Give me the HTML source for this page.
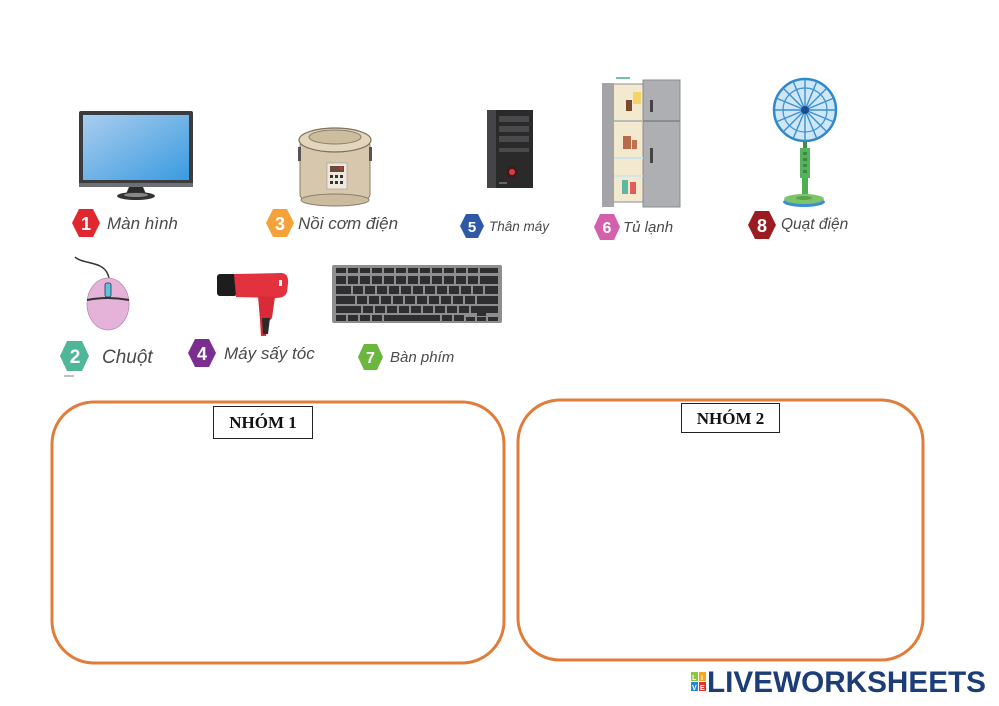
<!DOCTYPE html>
<html>
<head>
<meta charset="utf-8">
<style>
  html,body{margin:0;padding:0;background:#fff;}
  body{width:999px;height:706px;overflow:hidden;position:relative;}
  svg{position:absolute;left:0;top:0;}
  .lbl{font-family:"Liberation Sans","DejaVu Sans",sans-serif;font-style:italic;fill:#4a4a4a;}
  .num{font-family:"Liberation Sans",sans-serif;font-weight:bold;fill:#fff;}
  .nh{font-family:"Liberation Serif",serif;font-weight:bold;fill:#111;}
  .logo{font-family:"Liberation Sans",sans-serif;font-weight:bold;fill:#1d3d78;}
</style>
</head>
<body>
<svg width="999" height="706" viewBox="0 0 999 706" xmlns="http://www.w3.org/2000/svg">
  <defs>
    <linearGradient id="scr" x1="0" y1="0" x2="1" y2="1">
      <stop offset="0" stop-color="#a9cdee"/>
      <stop offset="1" stop-color="#3a9be0"/>
    </linearGradient>
  </defs>

  <!-- ===== Monitor ===== -->
  <rect x="79" y="111" width="114" height="76" rx="2" fill="#3a3c40"/>
  <rect x="83" y="115" width="106" height="65" fill="url(#scr)"/>
  <rect x="79" y="183" width="114" height="4" fill="#6d6f73"/>
  <polygon points="129,187 143,187 146,194 126,194" fill="#2a2a2a"/>
  <ellipse cx="136" cy="196" rx="19" ry="4" fill="#333"/>
  <ellipse cx="136" cy="195" rx="12" ry="2" fill="#888"/>
  <!-- badge 1 -->
  <polygon points="79,209 93,209 100,223 93,237 79,237 72,223" fill="#e0262e"/>
  <text x="86" y="230" class="num" font-size="18" text-anchor="middle">1</text>
  <text x="107" y="229" class="lbl" font-style="italic" font-size="17">Màn hình</text>

  <!-- ===== Rice cooker ===== -->
  <rect x="300" y="140" width="70" height="60" rx="6" fill="#d6c7ad" stroke="#8a7d68" stroke-width="1"/>
  <ellipse cx="335" cy="200" rx="34" ry="6" fill="#cbbb9f" stroke="#8a7d68" stroke-width="1"/>
  <ellipse cx="335" cy="140" rx="36" ry="12" fill="#e3d6bd" stroke="#7d705c" stroke-width="1.2"/>
  <ellipse cx="335" cy="137" rx="26" ry="7" fill="#cdbd9f" stroke="#8a7d68" stroke-width="1"/>
  <rect x="298" y="147" width="3" height="14" fill="#555"/>
  <rect x="369" y="147" width="3" height="14" fill="#555"/>
  <rect x="327" y="163" width="20" height="26" fill="#efe8dc" stroke="#999" stroke-width="0.6"/>
  <rect x="330" y="166" width="14" height="6" fill="#6b4a3b"/>
  <g fill="#333">
    <rect x="330" y="175" width="3" height="3"/><rect x="335" y="175" width="3" height="3"/><rect x="340" y="175" width="3" height="3"/>
    <rect x="330" y="181" width="3" height="3"/><rect x="335" y="181" width="3" height="3"/><rect x="340" y="181" width="3" height="3"/>
  </g>
  <circle cx="341" cy="168" r="1.5" fill="#d33"/>
  <!-- badge 3 -->
  <polygon points="273,209 287,209 294,223 287,237 273,237 266,223" fill="#f6a23a"/>
  <text x="280" y="230" class="num" font-size="18" text-anchor="middle">3</text>
  <text x="298" y="229" class="lbl" font-style="italic" font-size="17">Nồi cơm điện</text>

  <!-- ===== Tower PC ===== -->
  <rect x="487" y="110" width="46" height="78" fill="#2a2a2b"/>
  <rect x="487" y="110" width="9" height="78" fill="#454547"/>
  <g fill="#4a4a4c">
    <rect x="499" y="116" width="30" height="6"/>
    <rect x="499" y="126" width="30" height="6"/>
    <rect x="499" y="136" width="30" height="6"/>
    <rect x="499" y="148" width="30" height="4"/>
  </g>
  <circle cx="512" cy="172" r="6" fill="#3a1e1e"/>
  <circle cx="512" cy="172" r="3" fill="#e03b3b"/>
  <rect x="499" y="182" width="8" height="2" fill="#666"/>
  <!-- badge 5 -->
  <polygon points="466,214 478,214 484,226 478,238 466,238 460,226" fill="#2f59a8"/>
  <text x="472" y="232" class="num" font-size="15" text-anchor="middle">5</text>
  <text x="489" y="231" class="lbl" font-style="italic" font-size="13.5">Thân máy</text>

  <!-- ===== Fridge ===== -->
  <line x1="616" y1="78" x2="630" y2="78" stroke="#4aa89a" stroke-width="1.5"/>
  <rect x="612" y="84" width="32" height="118" fill="#f3e9cf" stroke="#8c8d90" stroke-width="1"/>
  <rect x="602" y="83" width="12" height="124" fill="#a3a4a7"/>
  <rect x="643" y="80" width="37" height="127" fill="#aeafb2" stroke="#8a8b8e" stroke-width="1"/>
  <line x1="643" y1="121" x2="680" y2="121" stroke="#808184" stroke-width="1.5"/>
  <line x1="614" y1="121" x2="643" y2="121" stroke="#bbb" stroke-width="2"/>
  <line x1="614" y1="158" x2="643" y2="158" stroke="#cfe3ea" stroke-width="2"/>
  <line x1="614" y1="176" x2="643" y2="176" stroke="#cfe3ea" stroke-width="1.5"/>
  <rect x="626" y="100" width="6" height="11" fill="#7a4a2e"/>
  <rect x="633" y="92" width="8" height="12" fill="#f4d36a"/>
  <rect x="623" y="136" width="8" height="13" fill="#b86b4a"/>
  <rect x="632" y="140" width="5" height="9" fill="#c2704f"/>
  <rect x="622" y="180" width="6" height="14" fill="#5fb7a3"/>
  <rect x="630" y="182" width="6" height="12" fill="#e35b5b"/>
  <rect x="650" y="100" width="3" height="12" fill="#444"/>
  <rect x="650" y="148" width="3" height="15" fill="#444"/>
  <!-- badge 6 -->
  <polygon points="600,214 614,214 620,227 614,240 600,240 594,227" fill="#d45fad"/>
  <text x="607" y="233" class="num" font-size="16" text-anchor="middle">6</text>
  <text x="623" y="232" class="lbl" font-style="italic" font-size="15">Tủ lạnh</text>

  <!-- ===== Fan ===== -->
  <circle cx="805" cy="110" r="31" fill="#cfe6f7" stroke="#2f88c9" stroke-width="2.5"/>
  <circle cx="805" cy="110" r="22" fill="none" stroke="#3b94d3" stroke-width="1.2"/>
  <g stroke="#3a8fd0" stroke-width="1.4">
    <line x1="805" y1="79" x2="805" y2="141"/>
    <line x1="774" y1="110" x2="836" y2="110"/>
    <line x1="783" y1="88" x2="827" y2="132"/>
    <line x1="827" y1="88" x2="783" y2="132"/>
    <line x1="793" y1="81" x2="817" y2="139"/>
    <line x1="817" y1="81" x2="793" y2="139"/>
    <line x1="776" y1="98" x2="834" y2="122"/>
    <line x1="834" y1="98" x2="776" y2="122"/>
  </g>
  <circle cx="805" cy="110" r="4" fill="#1f4c8c"/>
  <rect x="803" y="141" width="4" height="8" fill="#3e8f4a"/>
  <rect x="800" y="148" width="10" height="30" fill="#55b45a"/>
  <g fill="#3a8a45"><rect x="803" y="152" width="4" height="3"/><rect x="803" y="158" width="4" height="3"/><rect x="803" y="164" width="4" height="3"/><rect x="803" y="170" width="4" height="3"/></g>
  <rect x="802" y="178" width="6" height="19" fill="#4caf50"/>
  <ellipse cx="804" cy="202" rx="21" ry="5" fill="#3b8fd0"/>
  <ellipse cx="804" cy="199" rx="20" ry="5" fill="#7cc36a"/>
  <ellipse cx="804" cy="198" rx="8" ry="2" fill="#5aa34e"/>
  <!-- badge 8 -->
  <polygon points="755,211 769,211 776,225 769,239 755,239 748,225" fill="#9a1c20"/>
  <text x="762" y="232" class="num" font-size="18" text-anchor="middle">8</text>
  <text x="781" y="229" class="lbl" font-style="italic" font-size="15.5">Quạt điện</text>

  <!-- ===== Mouse ===== -->
  <path d="M75,257 C80,262 92,262 100,266 C108,270 110,278 109,285" fill="none" stroke="#333" stroke-width="1.5"/>
  <ellipse cx="108" cy="304" rx="21" ry="26" fill="#e5b3da" stroke="#b98aaf" stroke-width="0.8"/>
  <path d="M87,300 Q108,296 129,300" fill="none" stroke="#333" stroke-width="2"/>
  <rect x="105" y="283" width="6" height="14" rx="2" fill="#5ec1e2" stroke="#333" stroke-width="0.8"/>
  <!-- badge 2 -->
  <polygon points="67,341 82,341 89,356 82,371 67,371 60,356" fill="#4fb698"/>
  <text x="75" y="363" class="num" font-size="19" text-anchor="middle">2</text>
  <text x="102" y="363" class="lbl" font-style="italic" font-size="19">Chuột</text>
  <line x1="64" y1="376" x2="74" y2="376" stroke="#aaa" stroke-width="1.5"/>

  <!-- ===== Hair dryer ===== -->
  <rect x="217" y="274" width="20" height="22" rx="3" fill="#1d1d1d"/>
  <path d="M234,274 L282,273 Q289,274 288,284 L287,292 Q285,298 276,298 L236,297 Z" fill="#e2323f"/>
  <path d="M258,296 L275,297 L272,318 L268,322 L266,336 L261,336 L260,320 Z" fill="#d82a37"/>
  <path d="M262,318 L270,318 L268,334 L263,334 Z" fill="#2b2b2b"/>
  <rect x="279" y="280" width="3" height="6" fill="#f5f5f5"/>
  <!-- badge 4 -->
  <polygon points="195,339 209,339 216,353 209,367 195,367 188,353" fill="#7b2e8f"/>
  <text x="202" y="360" class="num" font-size="18" text-anchor="middle">4</text>
  <text x="224" y="359" class="lbl" font-style="italic" font-size="17">Máy sấy tóc</text>

  <!-- ===== Keyboard ===== -->
  <rect x="332" y="265" width="170" height="58" rx="2" fill="#8d8e90"/>
  <g fill="#2e2e30">
    <rect x="336" y="268" width="10" height="5"/><rect x="348" y="268" width="10" height="5"/><rect x="360" y="268" width="10" height="5"/><rect x="372" y="268" width="10" height="5"/><rect x="384" y="268" width="10" height="5"/><rect x="396" y="268" width="10" height="5"/><rect x="408" y="268" width="10" height="5"/><rect x="420" y="268" width="10" height="5"/><rect x="432" y="268" width="10" height="5"/><rect x="444" y="268" width="10" height="5"/><rect x="456" y="268" width="10" height="5"/><rect x="468" y="268" width="10" height="5"/><rect x="480" y="268" width="18" height="5"/>
    <rect x="336" y="276" width="10" height="8"/><rect x="348" y="276" width="10" height="8"/><rect x="360" y="276" width="10" height="8"/><rect x="372" y="276" width="10" height="8"/><rect x="384" y="276" width="10" height="8"/><rect x="396" y="276" width="10" height="8"/><rect x="408" y="276" width="10" height="8"/><rect x="420" y="276" width="10" height="8"/><rect x="432" y="276" width="10" height="8"/><rect x="444" y="276" width="10" height="8"/><rect x="456" y="276" width="10" height="8"/><rect x="468" y="276" width="10" height="8"/><rect x="480" y="276" width="18" height="8"/>
    <rect x="336" y="286" width="15" height="8"/><rect x="353" y="286" width="10" height="8"/><rect x="365" y="286" width="10" height="8"/><rect x="377" y="286" width="10" height="8"/><rect x="389" y="286" width="10" height="8"/><rect x="401" y="286" width="10" height="8"/><rect x="413" y="286" width="10" height="8"/><rect x="425" y="286" width="10" height="8"/><rect x="437" y="286" width="10" height="8"/><rect x="449" y="286" width="10" height="8"/><rect x="461" y="286" width="10" height="8"/><rect x="473" y="286" width="10" height="8"/><rect x="485" y="286" width="13" height="8"/>
    <rect x="336" y="296" width="19" height="8"/><rect x="357" y="296" width="10" height="8"/><rect x="369" y="296" width="10" height="8"/><rect x="381" y="296" width="10" height="8"/><rect x="393" y="296" width="10" height="8"/><rect x="405" y="296" width="10" height="8"/><rect x="417" y="296" width="10" height="8"/><rect x="429" y="296" width="10" height="8"/><rect x="441" y="296" width="10" height="8"/><rect x="453" y="296" width="10" height="8"/><rect x="465" y="296" width="10" height="8"/><rect x="477" y="296" width="21" height="8"/>
    <rect x="336" y="306" width="25" height="7"/><rect x="363" y="306" width="10" height="7"/><rect x="375" y="306" width="10" height="7"/><rect x="387" y="306" width="10" height="7"/><rect x="399" y="306" width="10" height="7"/><rect x="411" y="306" width="10" height="7"/><rect x="423" y="306" width="10" height="7"/><rect x="435" y="306" width="10" height="7"/><rect x="447" y="306" width="10" height="7"/><rect x="459" y="306" width="10" height="7"/><rect x="471" y="306" width="27" height="7"/>
    <rect x="336" y="315" width="10" height="6"/><rect x="348" y="315" width="10" height="6"/><rect x="360" y="315" width="10" height="6"/><rect x="372" y="315" width="10" height="6"/><rect x="384" y="315" width="56" height="6"/><rect x="442" y="315" width="10" height="6"/><rect x="454" y="315" width="10" height="6"/><rect x="466" y="317" width="9" height="4"/><rect x="477" y="313" width="9" height="3"/><rect x="477" y="317" width="9" height="4"/><rect x="488" y="317" width="10" height="4"/>
  </g>
  <!-- badge 7 -->
  <polygon points="364,344 377,344 383,357 377,370 364,370 358,357" fill="#6ab73f"/>
  <text x="370.5" y="363" class="num" font-size="16" text-anchor="middle">7</text>
  <text x="390" y="362" class="lbl" font-style="italic" font-size="15">Bàn phím</text>

  <!-- ===== Group boxes ===== -->
  <rect x="52" y="402" width="452" height="261" rx="42" fill="none" stroke="#e07d3a" stroke-width="3"/>
  <rect x="518" y="400" width="405" height="260" rx="42" fill="none" stroke="#e07d3a" stroke-width="3"/>

  <rect x="213.5" y="406.5" width="99" height="32" fill="#fff" stroke="#222" stroke-width="1"/>
  <text x="263" y="428" class="nh" font-size="17" text-anchor="middle">NHÓM 1</text>
  <rect x="681.5" y="403.5" width="98" height="29" fill="#fff" stroke="#222" stroke-width="1"/>
  <text x="730.5" y="424" class="nh" font-size="17" text-anchor="middle">NHÓM 2</text>

  <!-- ===== Logo ===== -->
  <rect x="691" y="672" width="7" height="9" fill="#8cc63f"/>
  <rect x="699" y="672" width="7" height="9" fill="#f6a81c"/>
  <rect x="691" y="682" width="7" height="9" fill="#2e86d4"/>
  <rect x="699" y="682" width="7" height="9" fill="#e8312f"/>
  <text x="692" y="680" font-family="Liberation Sans,sans-serif" font-weight="bold" font-size="7" fill="#fff">L</text>
  <text x="701" y="680" font-family="Liberation Sans,sans-serif" font-weight="bold" font-size="7" fill="#fff">I</text>
  <text x="692" y="690" font-family="Liberation Sans,sans-serif" font-weight="bold" font-size="7" fill="#fff">V</text>
  <text x="700" y="690" font-family="Liberation Sans,sans-serif" font-weight="bold" font-size="7" fill="#fff">E</text>
  <text x="707" y="692" class="logo" font-size="30" textLength="279" lengthAdjust="spacingAndGlyphs">LIVEWORKSHEETS</text>
</svg>
</body>
</html>
